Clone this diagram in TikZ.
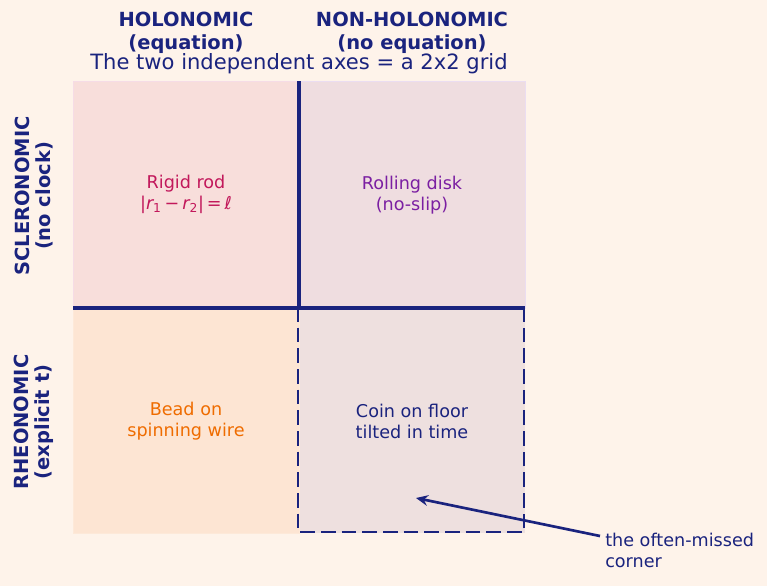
\documentclass[tikz,border=0pt]{standalone}
\usepackage{fontspec}
\setmainfont{DejaVu Sans}
\usetikzlibrary{arrows.meta}
\definecolor{bg}{HTML}{FEF3EA}
\definecolor{navy}{HTML}{1A237E}
\definecolor{ctl}{HTML}{F8DEDB}
\definecolor{ctr}{HTML}{EFDDE0}
\definecolor{cbl}{HTML}{FDE5D3}
\definecolor{cbr}{HTML}{EEE0DF}
\definecolor{crim}{HTML}{C2185B}
\definecolor{purp}{HTML}{7B1FA2}
\definecolor{orng}{HTML}{EF6C00}
\tikzset{
  celltext/.style={align=center, font=\fontsize{13.2}{15.8}\selectfont},
  head/.style={align=center, font=\fontsize{14.6}{17}\selectfont\bfseries, text=navy},
  rowlab/.style={align=center, font=\fontsize{14.6}{15.8}\selectfont\bfseries, text=navy, rotate=90},
  axis/.style={draw=navy, line width=2.4pt},
}
\begin{document}
\begin{tikzpicture}[x=0.75pt,y=-0.75pt]
\fill[bg] (0,0) rectangle (767,586);
\useasboundingbox (0,0) rectangle (767,586);
% cells
\fill[ctl] (73,81) rectangle (299,308);
\fill[ctr] (299,81) rectangle (525,308);
\fill[cbl] (73,308) rectangle (299,533);
\fill[cbr] (299,308) rectangle (525,533);
\draw[draw=crim!15, line width=0.4pt] (73,81) rectangle (299,308);
\draw[draw=purp!15, line width=0.4pt] (299,81) rectangle (525,308);
\draw[draw=orng!15, line width=0.4pt] (73,308) rectangle (299,533);
% axes
\coordinate (vt) at (299,81);
\coordinate (vb) at (299,308);
\coordinate (hl) at (73,308);
\coordinate (hr) at (525,308);
\draw[axis] (vt) -- (vb);
\draw[axis] (hl) -- (hr);
% dashed corner
\draw[navy, line width=2pt, dash pattern=on 11pt off 4.5pt] (298,307) rectangle (524,532);
% headings
\node[head] (h1) at (186,33) {HOLONOMIC\\(equation)};
\node[head] (h2) at (412,33) {NON-HOLONOMIC\\(no equation)};
\node[text=navy, font=\fontsize{15.8}{18}\selectfont] (title) at (299,64) {The two independent axes = a 2x2 grid};
\node[rowlab] (r1) at (34,196) {SCLERONOMIC\\(no clock)};
\node[rowlab] (r2) at (34,422) {RHEONOMIC\\(explicit t)};
% cell texts
\node[celltext, text=crim] (c1) at (186,194) {Rigid rod\\|{\itshape r}\textsubscript{1}\,−\,{\itshape r}\textsubscript{2}|\,=\,{\itshape ℓ}};
\node[celltext, text=purp] (c2) at (412,195) {Rolling disk\\(no-slip)};
\node[celltext, text=orng] (c3) at (186,421) {Bead on\\spinning wire};
\node[celltext, text=navy] (c4) at (412,421) {Coin on floor\\tilted in time};
% annotation
\node[anchor=north west, align=left, text=navy, font=\fontsize{13.2}{15.8}\selectfont, inner sep=0pt] (note) at (605,533) {the often-missed\\corner};
\coordinate (src) at (600,536);
\coordinate (tgt) at (416,498);
\draw[navy, line width=2pt, -{Stealth[length=9pt,width=8pt,inset=3pt]}] (src) -- (tgt);
\end{tikzpicture}
\end{document}
